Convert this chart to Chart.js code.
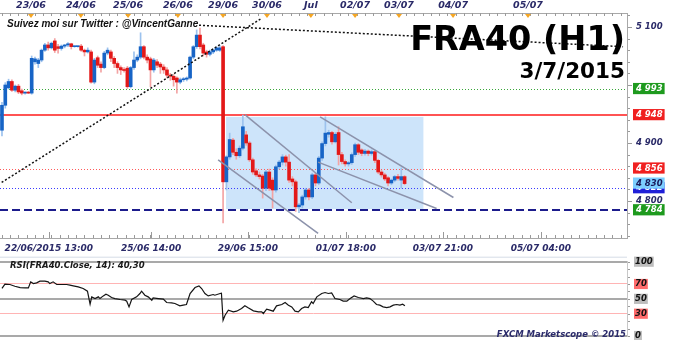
<!DOCTYPE html>
<html>
<head>
<meta charset="utf-8">
<script src="https://cdn.jsdelivr.net/npm/chart.js"></script>
<style>
    body { margin: 0; background: #fff; }
    #cadre { position: relative; width: 680px; height: 340px; overflow: hidden; background: #fff; }
    #cadre canvas { position: absolute; left: 0; }
    .txt { position: absolute; white-space: nowrap; }
    #suivez { left: 7px; top: 19px; font: italic bold 10px 'Liberation Sans', Arial, sans-serif; line-height: 10px; color: #111; }
    #titre { right: 55px; top: 21.5px; font: bold 33.5px 'DejaVu Sans', sans-serif; line-height: 33.5px; color: #000; }
    #date { right: 55px; top: 60.3px; font: bold 21.5px 'DejaVu Sans', sans-serif; line-height: 21.5px; color: #000; }
    #rsiTitre { left: 10px; top: 261px; font: italic bold 8.5px 'DejaVu Sans', sans-serif; line-height: 8.5px; color: #1a1a1a; }
    #fxcm { right: 54px; top: 330px; font: italic bold 8.5px 'DejaVu Sans', sans-serif; line-height: 8.5px; color: #2b2b6b; }
</style>
</head>
<body>
<div id="cadre">
    <canvas id="prix" width="680" height="256" style="top:0"></canvas>
    <canvas id="rsi" width="680" height="88" style="top:252px"></canvas>
    <div class="txt" id="suivez">Suivez moi sur Twitter : @VincentGanne</div>
    <div class="txt" id="titre">FRA40 (H1)</div>
    <div class="txt" id="date">3/7/2015</div>
    <div class="txt" id="rsiTitre">RSI(FRA40.Close, 14): 40,30</div>
    <div class="txt" id="fxcm">FXCM Marketscope © 2015</div>
</div>
<script>
// Bougies H1 (position = numéro de la bougie)
var ouvertures = [4922,4965,4995,5006,4991,4998,4990,4986,4987,4986, 5040,5037,5043,5060,5069,5064,5076,5066,5063,5067,
    5069,5071,5066,5066,5067,5060,5057,5057,5005,5047, 5036,5030,5055,5057,5046,5037,5030,5026,5029,4997,
    5030,5043,5048,5066,5048,5045,5026,5040,5036,5031, 5026,5017,5015,5012,5005,5009,5010,5012,5048,5066,
    5086,5069,5057,5053,5057,5060,5060,5066,4833,4876, 4905,4884,4878,4891,4914,4900,4871,4852,4845,4843,
    4822,4850,4836,4819,4859,4867,4876,4867,4838,4833, 4790,4793,4807,4819,4807,4845,4831,4874,4899,4915,
    4918,4902,4918,4880,4868,4864,4866,4880,4897,4888, 4882,4886,4882,4885,4870,4850,4845,4840,4831,4836,
    4842,4836,4842];
var hauts = [4970,5004,5010,5009,5000,5001,4993,4988,4989,5050, 5048,5046,5062,5072,5074,5074,5080,5070,5069,5070,
    5073,5072,5067,5067,5070,5062,5064,5060,5046,5050, 5040,5058,5064,5060,5049,5040,5033,5030,5032,5032,
    5057,5052,5090,5068,5052,5048,5046,5044,5039,5035, 5030,5020,5018,5014,5012,5013,5014,5050,5068,5095,
    5098,5072,5060,5060,5062,5066,5068,5068,4878,4917, 4908,4890,4895,4948,4920,4903,4874,4856,4850,4846,
    4853,4855,4840,4862,4870,4880,4879,4880,4842,4836, 4796,4810,4822,4822,4848,4848,4877,4902,4945,4922,
    4920,4918,4928,4884,4871,4868,4883,4900,4899,4890, 4889,4888,4888,4887,4872,4853,4848,4842,4838,4844,
    4846,4857,4844];
var bas = [4912,4960,4993,4989,4988,4985,4983,4984,4985,4984, 5036,5030,5040,5058,5060,5062,5056,5055,5060,5064,
    5066,5062,5065,5065,5058,5050,5055,5003,5002,5030, 5022,5028,5052,5040,5030,5020,5018,5022,4994,4995,
    5027,5040,5045,5045,5038,4997,5022,5030,5020,5020, 5012,5008,4998,4986,5002,5006,5007,5010,5045,5063,
    5062,5050,5048,5050,5054,5058,5058,4762,4819,4872, 4880,4872,4875,4888,4896,4868,4846,4842,4838,4805,
    4818,4818,4788,4815,4855,4862,4860,4832,4826,4782, 4780,4788,4803,4802,4804,4826,4828,4870,4895,4910,
    4898,4900,4862,4864,4860,4860,4863,4877,4880,4878, 4879,4878,4879,4866,4847,4841,4835,4826,4828,4833,
    4836,4822,4828];
var clotures = [4965,5000,5006,4991,4998,4988,4986,4987,4986,5046, 5045,5043,5060,5069,5064,5072,5060,5063,5067,5069,
    5071,5066,5066,5066,5060,5057,5060,5005,5043,5034, 5030,5055,5060,5046,5037,5030,5026,5025,4997,5030,
    5043,5048,5066,5048,5043,5026,5043,5034,5031,5026, 5017,5015,5009,5005,5009,5010,5012,5048,5066,5086,
    5066,5055,5053,5057,5060,5064,5064,4833,4876,4906, 4884,4878,4891,4928,4900,4871,4850,4845,4842,4822,
    4850,4822,4819,4859,4867,4876,4867,4836,4833,4790, 4793,4807,4819,4807,4845,4831,4874,4899,4917,4918,
    4902,4915,4880,4868,4864,4866,4880,4897,4884,4882, 4886,4882,4885,4870,4850,4845,4838,4831,4836,4842,
    4839,4842,4830];

// RSI(14) (position, valeur)
var rsiIdx = [0,0.9,2.4,3.9,5.5,7,8,8.7,9.5,10.5,11.5,13,14,14.5,15.5,16.6,18.1,19.6,20.6,21.6,23.1,24.6,25.9,26.7,27.2,
    28.2,29.2,29.7,30.7,31.5,32.2,33.2,34.2,35.8,37.3,37.8,38.5,39.3,40.8,41.8,42.3,43.3,44.3,45.4,45.8,47.4,48.9,49.9,
    51.4,52.4,53.9,54.9,55.9,57,58.5,59.7,60.5,61.5,62.5,64,64.5,66.1,66.5,67,67.6,68.6,70.1,71.1,72.6,73.6,74.6,76.2,
    77.7,78.7,79.2,80.2,81.2,82.2,83.2,84.8,85.8,86.8,87.8,88.8,89.8,90.8,91.8,92.8,93.8,94.3,95.4,96.9,97.9,98.9,99.9,
    100.9,102.4,103.4,104.5,105.5,106.7,108,109.5,110.5,111.5,112.5,113.5,114.5,115.5,116.6,117.6,118.6,119.6,120.6,121.4,122.1];
var rsiVal = [64,69.7,69.3,67,65.2,64.8,64.8,72.9,70.6,71.5,73.8,73.8,72.9,70.6,72.9,69.3,69.3,69.3,68.4,67.5,66.1,63.9,60.3,42.8,52.7,
    50.4,52.7,50.4,54,56.3,54.9,51.8,50.4,49.1,48.2,46.9,39.2,49.1,52.7,57.2,60.3,54.9,52.7,48.2,51.3,50.4,49.6,45.1,
    44.6,43.7,40.6,41.5,42.4,57.2,65.2,67.5,63.9,57.2,54,55.8,54.9,57.2,57.5,21.3,28,34.8,32.5,33.4,37,40.6,37.9,33.9,
    32.5,32.5,30.3,36.1,34.8,33.4,40.6,42.4,45.1,41.5,39.2,33.4,32.5,37,39.2,38.3,46,43.7,52.7,57.2,58.5,57.2,58.1,
    50.4,49.1,46.9,46.9,50.4,54,51.8,50.4,51.3,50.4,46.9,42.4,41.5,39.2,38.3,39.2,41.5,42.4,41.5,42.8,40.6];

// Axes du temps
var joursIdx = [8.8, 23.9, 38.2, 53.3, 67, 80.3, 93.6, 107, 120.3, 136.7, 159.4];
var joursLabels = ['23/06', '24/06', '25/06', '26/06', '29/06', '30/06', 'Jul', '02/07', '03/07', '04/07', '05/07'];
var heuresIdx = [14.2, 45.2, 74.5, 104.2, 133.6, 163.3];
var heuresLabels = ['22/06/2015 13:00', '25/06 14:00', '29/06 15:00', '01/07 18:00', '03/07 21:00', '05/07 04:00'];

// Axe des prix et niveaux
var prixAxe = [4800, 4900, 5100];
var prixEtiquettes = [4784, 4822, 4830, 4856, 4948, 4993];
var lignesNiveaux = [4993, 4948, 4856, 4822, 4784];
var rsiNiveaux = [0, 30, 50, 70, 100];

// Tracés manuels (position, prix)
var ligneHausse = [[-0.1, 4832], [78.7, 5115]];
var ligneBaisse = [[59.7, 5103], [188.2, 5066]];
var canal1Haut = [[73.6, 4949], [106, 4797]];
var canal1Bas = [[65.5, 4871], [95.8, 4744]];
var canal2Haut = [[96.4, 4945], [136.8, 4806]];
var canal2Bas = [[95.8, 4867], [131.7, 4787]];
var zoneIdx = [67.9, 127.7];
var zonePrix = [4786, 4945];

document.addEventListener('DOMContentLoaded', function () {
    var police = 'DejaVu Sans';
    var marine = '#2a2a68';
    var xMin = -0.6, xMax = 189.4;

    function fmtPrix(v) {
        var s = String(Math.round(v));
        return s.slice(0, s.length - 3) + ' ' + s.slice(-3);
    }
    function segment(l) {
        return [{x: l[0][0], y: l[0][1]}, {x: l[1][0], y: l[1][1]}];
    }
    // pas de marge automatique autour des axes
    function sansMarge(s) {
        s.paddingTop = 0;
        s.paddingBottom = 0;
        s.paddingLeft = 0;
        s.paddingRight = 0;
    }

    var indices = clotures.map(function (c, i) { return i; });
    var hausse = indices.map(function (i) { return clotures[i] >= ouvertures[i]; });
    var corps = indices.map(function (i) { return {x: i, y: [ouvertures[i], clotures[i]]}; });
    var meches = indices.map(function (i) { return {x: i, y: [bas[i], hauts[i]]}; });

    var stylesNiveaux = {
        4993: {color: '#3aa83a', width: 1, dash: [1, 2]},
        4948: {color: '#ff1a1a', width: 1.5, dash: []},
        4856: {color: '#ff5a5a', width: 1, dash: [1, 2]},
        4822: {color: '#3a3aff', width: 1, dash: [1, 2]},
        4784: {color: '#1c1c8c', width: 2, dash: [8, 4]}
    };
    var fondEtiquettes = {4784: '#1e9a1e', 4822: '#1f1fd8', 4830: '#7ccfff', 4856: '#f02020', 4948: '#f02020', 4993: '#1e9a1e'};

    // Zone bleue, niveaux et graduations du graphique des prix
    var decorPrix = {
        id: 'decorPrix',
        beforeDraw: function (chart) {
            var ctx = chart.ctx, a = chart.chartArea, y = chart.scales.y;
            ctx.save();
            ctx.strokeStyle = '#9a9a9a';
            ctx.lineWidth = 1;
            ctx.beginPath();
            for (var p = 4740; p <= 5120; p += 20) {
                var py = Math.round(y.getPixelForValue(p)) + 0.5;
                ctx.moveTo(a.right, py);
                ctx.lineTo(a.right + (p % 100 === 0 ? 5 : 3), py);
            }
            ctx.stroke();
            ctx.restore();
        },
        beforeDatasetsDraw: function (chart) {
            var ctx = chart.ctx, a = chart.chartArea, x = chart.scales.x, y = chart.scales.y;
            ctx.save();
            ctx.beginPath();
            ctx.rect(a.left, a.top, a.right - a.left, a.bottom - a.top);
            ctx.clip();
            var x0 = x.getPixelForValue(zoneIdx[0]), x1 = x.getPixelForValue(zoneIdx[1]);
            var y0 = y.getPixelForValue(zonePrix[1]), y1 = y.getPixelForValue(zonePrix[0]);
            ctx.fillStyle = '#cde4fa';
            ctx.fillRect(x0, y0, x1 - x0, y1 - y0);
            lignesNiveaux.forEach(function (v) {
                var s = stylesNiveaux[v];
                var py = Math.round(y.getPixelForValue(v)) + (s.width === 1 ? 0.5 : 0);
                ctx.strokeStyle = s.color;
                ctx.lineWidth = s.width;
                ctx.setLineDash(s.dash);
                ctx.beginPath();
                ctx.moveTo(a.left, py);
                ctx.lineTo(a.right, py);
                ctx.stroke();
            });
            ctx.restore();
        },
        afterDraw: function (chart) {
            var ctx = chart.ctx, a = chart.chartArea, x = chart.scales.x;
            ctx.save();
            ctx.strokeStyle = '#9a9a9a';
            ctx.lineWidth = 1;
            ctx.beginPath();
            for (var v = 0; v <= xMax; v += 2.5) {
                var px = Math.round(x.getPixelForValue(v)) + 0.5;
                ctx.moveTo(px, a.top);
                ctx.lineTo(px, a.top + 3);
                ctx.moveTo(px, a.bottom);
                ctx.lineTo(px, a.bottom - 3);
            }
            heuresIdx.forEach(function (v) {
                var px = Math.round(x.getPixelForValue(v)) + 0.5;
                ctx.moveTo(px, a.bottom);
                ctx.lineTo(px, a.bottom - 6);
            });
            ctx.stroke();
            ctx.fillStyle = '#f5a623';
            joursIdx.forEach(function (v) {
                var px = x.getPixelForValue(v);
                ctx.beginPath();
                ctx.moveTo(px - 3, a.top + 1);
                ctx.lineTo(px + 3, a.top + 1);
                ctx.lineTo(px, a.top + 5);
                ctx.closePath();
                ctx.fill();
            });
            ctx.restore();
        }
    };

    var policeAxe = {family: police, size: 9, weight: 'bold', style: 'italic'};

    new Chart(document.getElementById('prix'), {
        type: 'bar',
        data: {
            datasets: [{
                data: meches,
                backgroundColor: hausse.map(function (h) { return h ? '#9cc2ee' : '#f3a3a3'; }),
                barThickness: 1,
                minBarLength: 1,
                grouped: false,
                order: 3
            }, {
                data: corps,
                backgroundColor: hausse.map(function (h) { return h ? '#1764c6' : '#e31818'; }),
                barThickness: 3,
                minBarLength: 1,
                grouped: false,
                order: 2
            }, {
                type: 'line', data: segment(ligneHausse), borderColor: '#111', borderWidth: 1.5,
                borderDash: [2, 2], pointRadius: 0, order: 1
            }, {
                type: 'line', data: segment(ligneBaisse), borderColor: '#111', borderWidth: 1.5,
                borderDash: [2, 2], pointRadius: 0, order: 1
            }, {
                type: 'line', data: segment(canal1Haut), borderColor: '#8c92ab', borderWidth: 1.5, pointRadius: 0, order: 1
            }, {
                type: 'line', data: segment(canal1Bas), borderColor: '#8c92ab', borderWidth: 1.5, pointRadius: 0, order: 1
            }, {
                type: 'line', data: segment(canal2Haut), borderColor: '#8c92ab', borderWidth: 1.5, pointRadius: 0, order: 1
            }, {
                type: 'line', data: segment(canal2Bas), borderColor: '#8c92ab', borderWidth: 1.5, pointRadius: 0, order: 1
            }]
        },
        options: {
            responsive: false,
            animation: false,
            events: [],
            layout: {padding: 0},
            plugins: {legend: {display: false}, tooltip: {enabled: false}},
            scales: {
                x: {
                    type: 'linear', position: 'bottom', min: xMin, max: xMax, offset: false,
                    afterBuildTicks: function (s) { s.ticks = heuresIdx.map(function (v) { return {value: v}; }); },
                    afterFit: function (s) { s.height = 18; sansMarge(s); },
                    grid: {display: false, drawTicks: false},
                    border: {display: true, color: '#a8a8a8'},
                    ticks: {
                        autoSkip: false, maxRotation: 0, padding: 5, font: policeAxe, color: marine,
                        callback: function (v, i) { return heuresLabels[i]; }
                    }
                },
                xTop: {
                    type: 'linear', position: 'top', min: xMin, max: xMax, offset: false,
                    afterBuildTicks: function (s) { s.ticks = joursIdx.map(function (v) { return {value: v}; }); },
                    afterFit: function (s) { s.height = 13; sansMarge(s); },
                    grid: {display: false, drawTicks: false},
                    border: {display: true, color: '#a8a8a8'},
                    ticks: {
                        autoSkip: false, maxRotation: 0, padding: 2, color: marine,
                        font: {family: police, size: 9.5, weight: 'bold', style: 'italic'},
                        callback: function (v, i) { return joursLabels[i]; }
                    }
                },
                y: {
                    type: 'linear', position: 'right', min: 4736.2, max: 5124.1,
                    afterBuildTicks: function (s) {
                        s.ticks = prixEtiquettes.concat(prixAxe).sort(function (a, b) { return a - b; })
                            .map(function (v) { return {value: v}; });
                    },
                    afterFit: function (s) { s.width = 53; sansMarge(s); },
                    grid: {display: false, drawTicks: false},
                    border: {display: true, color: '#a8a8a8'},
                    ticks: {
                        autoSkip: false, padding: 9,
                        font: {family: police, size: 8.5, weight: 'bold', style: 'italic'},
                        showLabelBackdrop: function (c) { return !!fondEtiquettes[c.tick.value]; },
                        backdropColor: function (c) { return fondEtiquettes[c.tick.value] || 'rgba(0,0,0,0)'; },
                        backdropPadding: {left: 3, right: 2, top: 1, bottom: 0},
                        color: function (c) {
                            var v = c.tick.value;
                            if (v === 4830) return '#1a1a5a';
                            return fondEtiquettes[v] ? '#ffffff' : marine;
                        },
                        callback: function (v) { return fmtPrix(v); }
                    }
                }
            }
        },
        plugins: [decorPrix]
    });

    // Panneau RSI
    var decorRsi = {
        id: 'decorRsi',
        beforeDraw: function (chart) {
            var ctx = chart.ctx, a = chart.chartArea, y = chart.scales.y;
            ctx.save();
            ctx.strokeStyle = '#d5dce6';
            ctx.lineWidth = 1;
            ctx.beginPath();
            ctx.moveTo(0, a.top - 4.5);
            ctx.lineTo(a.right, a.top - 4.5);
            ctx.stroke();
            ctx.strokeStyle = '#9a9a9a';
            ctx.beginPath();
            for (var v = 0; v <= 100; v += 10) {
                var py = Math.round(y.getPixelForValue(v)) + 0.5;
                ctx.moveTo(a.right, py);
                ctx.lineTo(a.right + 3, py);
            }
            ctx.stroke();
            ctx.restore();
        }
    };

    new Chart(document.getElementById('rsi'), {
        type: 'line',
        data: {
            datasets: [{
                data: rsiIdx.map(function (v, k) { return {x: v, y: rsiVal[k]}; }),
                borderColor: '#151515',
                borderWidth: 1.2,
                pointRadius: 0,
                tension: 0
            }]
        },
        options: {
            responsive: false,
            animation: false,
            events: [],
            layout: {padding: {top: 9.7, bottom: 4, left: 0, right: 0}},
            plugins: {legend: {display: false}, tooltip: {enabled: false}},
            scales: {
                x: {type: 'linear', min: xMin, max: xMax, display: false},
                y: {
                    position: 'right', min: 0, max: 100,
                    afterBuildTicks: function (s) { s.ticks = rsiNiveaux.map(function (v) { return {value: v}; }); },
                    afterFit: function (s) { s.width = 53; sansMarge(s); },
                    border: {display: true, color: '#c8c8c8'},
                    grid: {
                        drawTicks: false,
                        color: function (c) { return (c.tick && (c.tick.value === 30 || c.tick.value === 70)) ? '#ffb4b4' : '#a9a9a9'; },
                        lineWidth: function (c) { return (c.tick && (c.tick.value === 30 || c.tick.value === 70)) ? 1 : 2; }
                    },
                    ticks: {
                        autoSkip: false, padding: 8, color: '#111',
                        font: {family: police, size: 8.5, weight: 'bold', style: 'italic'},
                        showLabelBackdrop: true,
                        backdropColor: function (c) { return (c.tick.value === 30 || c.tick.value === 70) ? '#ff6b6b' : '#bdbdbd'; },
                        backdropPadding: {left: 1, right: 1, top: 0, bottom: 0},
                        callback: function (v) { return String(v); }
                    }
                }
            }
        },
        plugins: [decorRsi]
    });
});
</script>
</body>
</html>
